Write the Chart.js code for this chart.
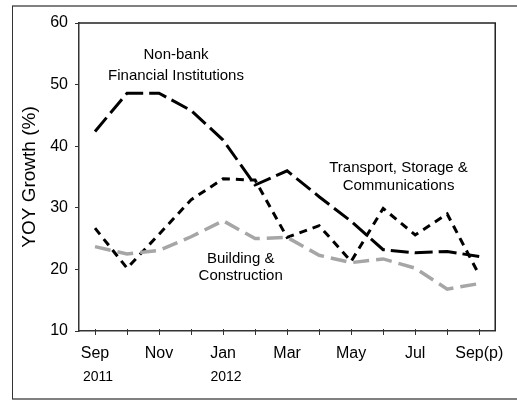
<!DOCTYPE html>
<html>
<head>
<meta charset="utf-8">
<script src="https://cdn.jsdelivr.net/npm/chart.js@4.4.0/dist/chart.umd.min.js"></script>
<style>
  body { margin: 0; background: #fff; }
  #chart { position: absolute; left: 0; top: 0; }
</style>
</head>
<body>
<canvas id="chart" width="517" height="401"></canvas>
<script>
// months Sep 2011 .. Sep 2012 (p = provisional)
const months = ['Sep', 'Oct', 'Nov', 'Dec', 'Jan', 'Feb', 'Mar', 'Apr', 'May', 'Jun', 'Jul', 'Aug', 'Sep(p)'];
const tickLabels = ['Sep', '', 'Nov', '', 'Jan', '', 'Mar', '', 'May', '', 'Jul', '', 'Sep(p)'];
const yearLabels = ['2011', '', '', '', '2012', '', '', '', '', '', '', '', ''];

const nonBank = [42.4, 48.6, 48.6, 45.8, 41.0, 33.7, 36.0, 31.8, 27.8, 23.2, 22.7, 22.9, 22.1];
const transport = [26.7, 20.2, 25.7, 31.3, 34.7, 34.5, 25.2, 27.1, 21.3, 29.9, 25.6, 29.0, 19.1];
const building = [23.7, 22.5, 23.1, 25.3, 27.9, 25.0, 25.2, 22.3, 21.1, 21.7, 20.2, 16.8, 17.7];

// text labels sitting in the plot, anchored in data units
const notes = [
  { lines: ['Non-bank', 'Financial Institutions'], at: 2.53, value: 53.1, gap: 21 },
  { lines: ['Transport, Storage &', 'Communications'], at: 9.48, value: 35.0, gap: 18 },
  { lines: ['Building &', 'Construction'], at: 4.55, value: 20.4, gap: 17 }
];

const FONT = 'Liberation Sans, Arial, Helvetica, sans-serif';

const decor = {
  id: 'decor',
  beforeDraw(chart) {
    const ctx = chart.ctx;
    ctx.save();
    ctx.fillStyle = '#fff';
    ctx.fillRect(0, 0, chart.width, chart.height);
    // outer frame
    ctx.strokeStyle = '#808080';
    ctx.lineWidth = 2;
    ctx.beginPath();
    ctx.moveTo(12, 6); ctx.lineTo(517, 6);
    ctx.moveTo(12, 399); ctx.lineTo(517, 399);
    ctx.stroke();
    ctx.strokeStyle = '#333';
    ctx.lineWidth = 1;
    ctx.beginPath();
    ctx.moveTo(12.5, 6); ctx.lineTo(12.5, 399);
    ctx.stroke();
    ctx.restore();
  },
  afterDraw(chart) {
    const { ctx, chartArea: a, scales: { x, y } } = chart;
    ctx.save();
    ctx.strokeStyle = '#222';
    ctx.lineWidth = 1.5;
    ctx.beginPath();
    ctx.moveTo(a.left, a.top); ctx.lineTo(a.right, a.top); ctx.lineTo(a.right, a.bottom);
    ctx.stroke();
    // x tick marks across the axis line
    ctx.lineWidth = 1;
    ctx.strokeStyle = '#333';
    ctx.beginPath();
    months.forEach((_, i) => {
      const px = Math.round(x.getPixelForValue(i)) + 0.5;
      ctx.moveTo(px, a.bottom - 2); ctx.lineTo(px, a.bottom + 4);
    });
    ctx.stroke();
    // years under the month labels
    ctx.fillStyle = '#000';
    ctx.font = '14px ' + FONT;
    ctx.textAlign = 'center';
    ctx.textBaseline = 'middle';
    yearLabels.forEach((t, i) => {
      if (t) ctx.fillText(t, x.getPixelForValue(i) + 3, a.bottom + 46);
    });
    // series notes
    ctx.font = '15px ' + FONT;
    notes.forEach(n => {
      const cx = x.getPixelForValue(n.at);
      const cy = y.getPixelForValue(n.value);
      n.lines.forEach((t, k) => {
        ctx.fillText(t, cx, cy + (k - (n.lines.length - 1) / 2) * n.gap);
      });
    });
    ctx.restore();
  }
};

new Chart(document.getElementById('chart'), {
  type: 'line',
  data: {
    labels: months,
    datasets: [
      { label: 'Building & Construction', data: building, borderColor: '#a6a6a6', borderWidth: 3.5, borderDash: [16, 7] },
      { label: 'Transport, Storage & Communications', data: transport, borderColor: '#000', borderWidth: 3, borderDash: [8, 6] },
      { label: 'Non-bank Financial Institutions', data: nonBank, borderColor: '#000', borderWidth: 3, borderDash: [18, 6] }
    ]
  },
  options: {
    responsive: false,
    devicePixelRatio: 1,
    animation: false,
    layout: { padding: { left: 0, top: 23, right: 20, bottom: 0 } },
    elements: { point: { radius: 0 }, line: { tension: 0, fill: false } },
    plugins: { legend: { display: false }, tooltip: { enabled: false } },
    scales: {
      x: {
        offset: true,
        grid: { display: false, drawTicks: false },
        border: { color: '#333', width: 1.5 },
        ticks: {
          color: '#000', font: { family: FONT, size: 16 }, padding: 13,
          autoSkip: false, maxRotation: 0,
          callback: (v, i) => tickLabels[i]
        },
        afterFit: s => { s.height = 70; }
      },
      y: {
        min: 10, max: 60,
        grid: { drawOnChartArea: false, tickLength: 4, color: '#333' },
        border: { color: '#333', width: 1.5 },
        ticks: { stepSize: 10, color: '#000', font: { family: FONT, size: 16 }, padding: 7 },
        title: { display: true, text: 'YOY Growth (%)', color: '#000', font: { family: FONT, size: 19 }, padding: { top: 18, bottom: 0 } },
        afterFit: s => { s.width = 79; }
      }
    }
  },
  plugins: [decor]
});
</script>
</body>
</html>
